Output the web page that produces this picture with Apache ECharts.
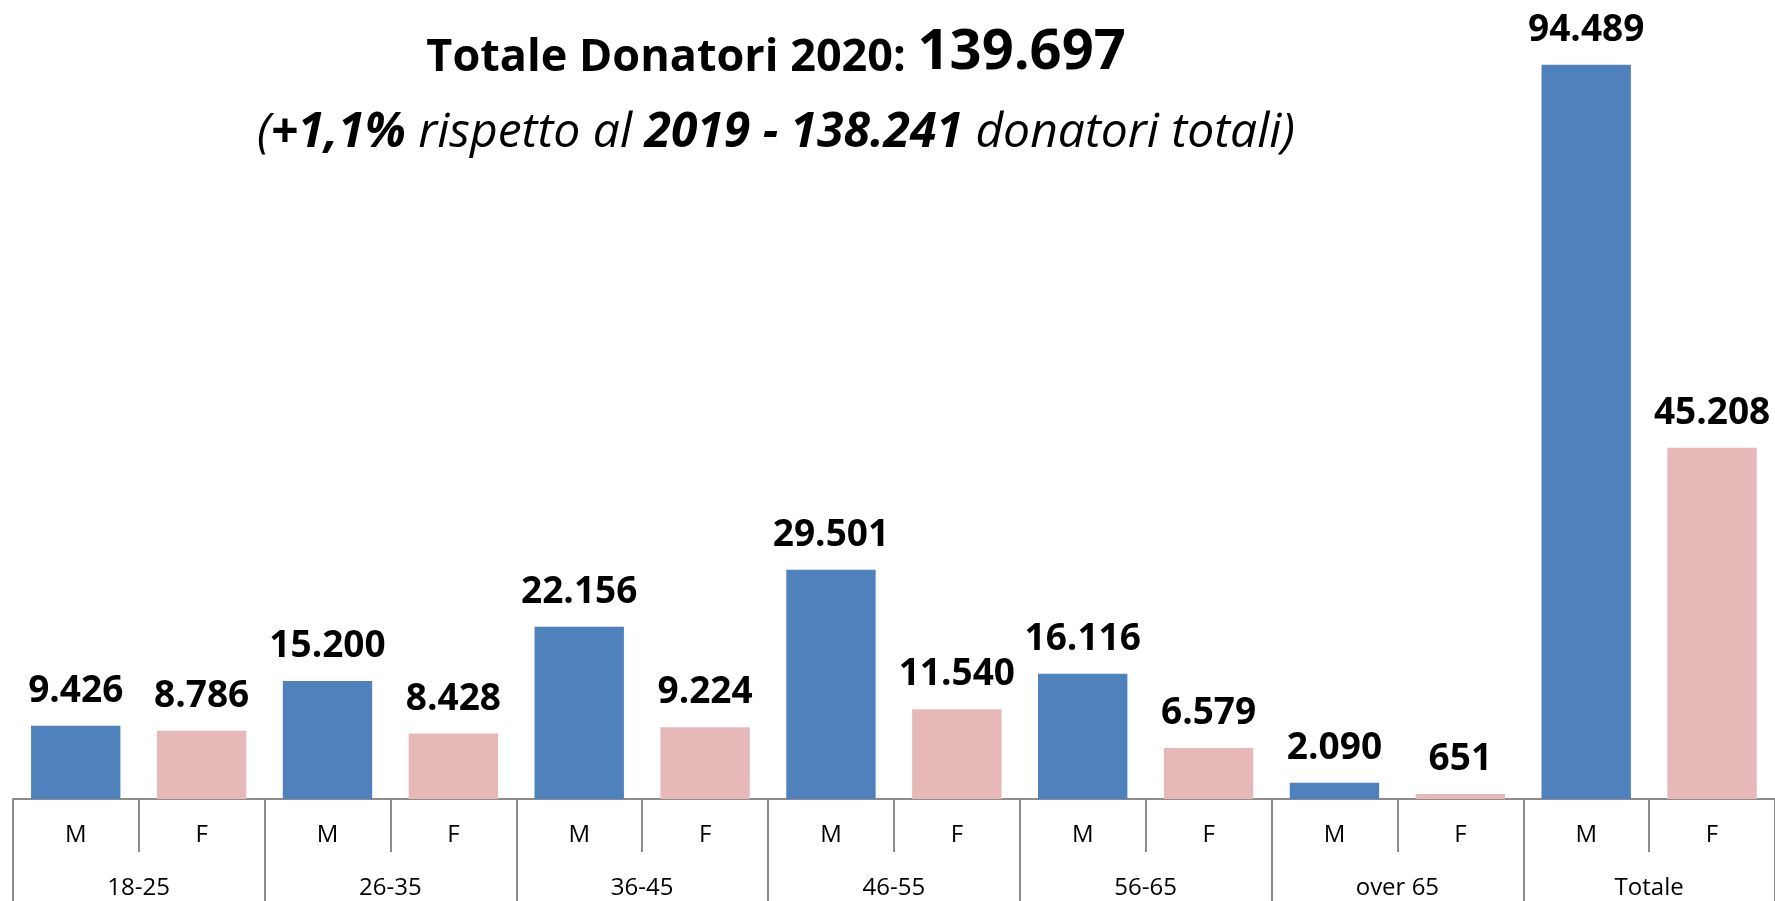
<!DOCTYPE html>
<html style="height: 100%">
    <head>
        <meta charset="utf-8">
    </head>
    <body style="height: 100%; margin: 0">
        <div id="container" style="height: 100%"></div>

        <script type="text/javascript" src="https://cdn.jsdelivr.net/npm/echarts@6/dist/echarts.min.js"></script>

        <script type="text/javascript">
var categories = ['18-25', '26-35', '36-45', '46-55', '56-65', 'over 65', 'Totale'];
var sexLabels = ['M', 'F'];
var maleValues = [9426, 15200, 22156, 29501, 16116, 2090, 94489];
var femaleValues = [8786, 8428, 9224, 11540, 6579, 651, 45208];

var dom = document.getElementById("container");
var myChart = echarts.init(dom);

var option;

var font = 'Open Sans';
var axisGray = '#8c8c8c';

// one M and one F slot per age group
var sexCategories = [];
var maleData = [];
var femaleData = [];
for (var i = 0; i < categories.length; i++) {
    sexCategories.push(sexLabels[0], sexLabels[1]);
    maleData.push(maleValues[i], '-');
    femaleData.push('-', femaleValues[i]);
}

var fmt = function (p) {
    return String(p.value).replace(/\B(?=(\d{3})+(?!\d))/g, '.');
};

var barLabel = {
    show: true,
    position: 'top',
    distance: 16,
    formatter: fmt,
    color: '#000',
    fontFamily: font,
    fontWeight: 'bold',
    fontSize: 37
};

option = {
    backgroundColor: '#fff',
    animation: false,
    title: {
        left: 776,
        top: 25,
        textAlign: 'center',
        padding: 0,
        itemGap: 28,
        text: '{a|Totale Donatori 2020: }{b|139.697}',
        subtext: '{i|(}{bi|+1,1%}{i| rispetto al }{bi|2019 - 138.241}{i| donatori totali)}',
        textStyle: {
            rich: {
                a: {fontFamily: font, fontWeight: 'bold', fontSize: 45, lineHeight: 45, color: '#000', verticalAlign: 'bottom'},
                b: {fontFamily: font, fontWeight: 'bold', fontSize: 56, lineHeight: 56, color: '#000', verticalAlign: 'bottom'}
            }
        },
        subtextStyle: {
            rich: {
                i: {fontFamily: font, fontStyle: 'italic', fontSize: 48, lineHeight: 48, color: '#000'},
                bi: {fontFamily: font, fontStyle: 'italic', fontWeight: 'bold', fontSize: 48, lineHeight: 48, color: '#000'}
            }
        }
    },
    grid: {
        left: 12.8,
        right: -7.7,
        top: 22,
        bottom: 102,
        containLabel: false
    },
    xAxis: [
        {
            type: 'category',
            data: sexCategories,
            position: 'bottom',
            axisLine: {show: true, lineStyle: {color: axisGray, width: 2}},
            axisTick: {show: true, length: 53, lineStyle: {color: axisGray, width: 2}},
            axisLabel: {color: '#000', fontFamily: font, fontSize: 24, margin: 24, interval: 0}
        },
        {
            type: 'category',
            data: categories,
            position: 'bottom',
            axisLine: {show: false},
            axisTick: {show: true, length: 102, lineStyle: {color: axisGray, width: 2}},
            axisLabel: {color: '#000', fontFamily: font, fontSize: 24, margin: 77, interval: 0}
        }
    ],
    yAxis: {
        type: 'value',
        min: 0,
        max: 100000,
        show: false,
        splitLine: {show: false}
    },
    series: [
        {
            name: 'M',
            type: 'bar',
            xAxisIndex: 0,
            data: maleData,
            barGap: '-100%',
            barCategoryGap: '29%',
            itemStyle: {color: '#4f81bd'},
            label: barLabel
        },
        {
            name: 'F',
            type: 'bar',
            xAxisIndex: 0,
            data: femaleData,
            barGap: '-100%',
            barCategoryGap: '29%',
            itemStyle: {color: '#e6b9b8'},
            label: barLabel
        }
    ]
};

myChart.setOption(option);
        </script>
    </body>
</html>
